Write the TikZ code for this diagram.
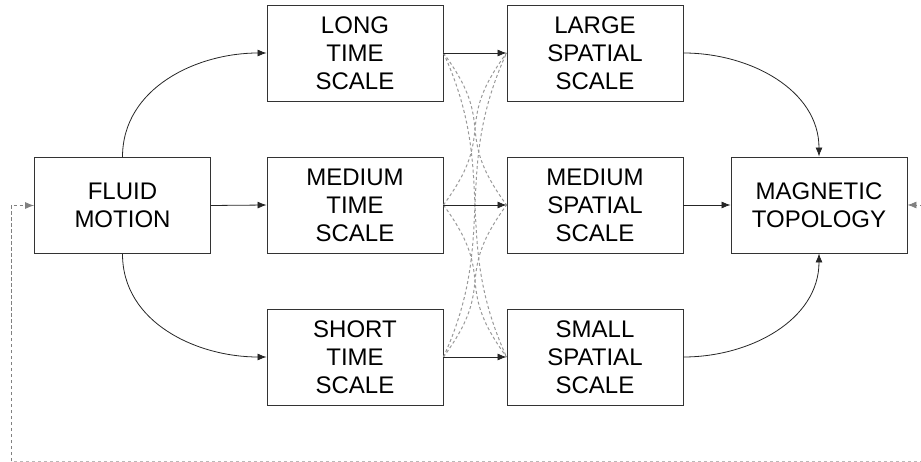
\documentclass[tikz,border=0pt]{standalone}
\usepackage{fontspec}
\setmainfont{Liberation Sans}
\usetikzlibrary{arrows.meta}
\begin{document}
\begin{tikzpicture}[x=1pt,y=1pt,
  blockbox/.style={draw=black!80, line width=0.9pt, minimum width=176pt, minimum height=96pt,
    align=center, inner sep=0pt, font=\fontsize{24}{28}\selectfont},
  flow/.style={draw=black!85, line width=0.8pt, -{Latex[length=9pt,width=7pt]}},
  cross/.style={draw=black!40, line width=1pt, dash pattern=on 3pt off 2.5pt},
  feedback/.style={draw=black!50, line width=0.8pt, dash pattern=on 3.5pt off 2.5pt},
  feedtip/.style={-{Latex[length=9pt,width=7pt]}}
]
\useasboundingbox (0,0) rectangle (921,-462);

% blocks
\node[blockbox] (fluid)  at (122.5,-205.5) {FLUID\\MOTION};
\node[blockbox] (tlong)  at (355,-53)  {LONG\\TIME\\SCALE};
\node[blockbox] (tmed)   at (355,-205) {MEDIUM\\TIME\\SCALE};
\node[blockbox] (tshort) at (355,-357) {SHORT\\TIME\\SCALE};
\node[blockbox] (slarge) at (595,-53)  {LARGE\\SPATIAL\\SCALE};
\node[blockbox] (smed)   at (595,-205) {MEDIUM\\SPATIAL\\SCALE};
\node[blockbox] (ssmall) at (595,-357) {SMALL\\SPATIAL\\SCALE};
\node[blockbox] (magnet) at (819,-205) {MAGNETIC\\TOPOLOGY};

% cross couplings between time and spatial scales
% one row apart
\draw[cross] (tlong.east)  .. controls +(55,-75) and +(-55,75)  .. (smed.west);
\draw[cross] (tmed.east)   .. controls +(55,-75) and +(-55,75)  .. (ssmall.west);
\draw[cross] (tmed.east)   .. controls +(55,75)  and +(-55,-75) .. (slarge.west);
\draw[cross] (tshort.east) .. controls +(55,75)  and +(-55,-75) .. (smed.west);
% two rows apart
\draw[cross] (tlong.east)  .. controls +(55,-120) and +(-55,120)  .. (ssmall.west);
\draw[cross] (tshort.east) .. controls +(55,120)  and +(-55,-120) .. (slarge.west);

% main flow
\draw[flow] (fluid.north) to[out=90,in=180] (tlong.west);
\draw[flow] (fluid.east) -- (tmed.west);
\draw[flow] (fluid.south) to[out=-90,in=180] (tshort.west);
\draw[flow] (tlong.east) -- (slarge.west);
\draw[flow] (tmed.east) -- (smed.west);
\draw[flow] (tshort.east) -- (ssmall.west);
\draw[flow] (slarge.east) to[out=0,in=90] (magnet.north);
\draw[flow] (smed.east) -- (magnet.west);
\draw[flow] (ssmall.east) to[out=0,in=-90] (magnet.south);

% feedback loop
\coordinate (fbR) at (935,-205);
\coordinate (fbB) at (11,-461);
\draw[feedback, feedtip] (fbR) -- (magnet.east);
\draw[feedback, draw=black!28] (fbR |- fbB) -- (fbB);
\draw[feedback, feedtip] (fbB) -- (fbB |- fluid.west) -- (fluid.west);
\end{tikzpicture}
\end{document}
